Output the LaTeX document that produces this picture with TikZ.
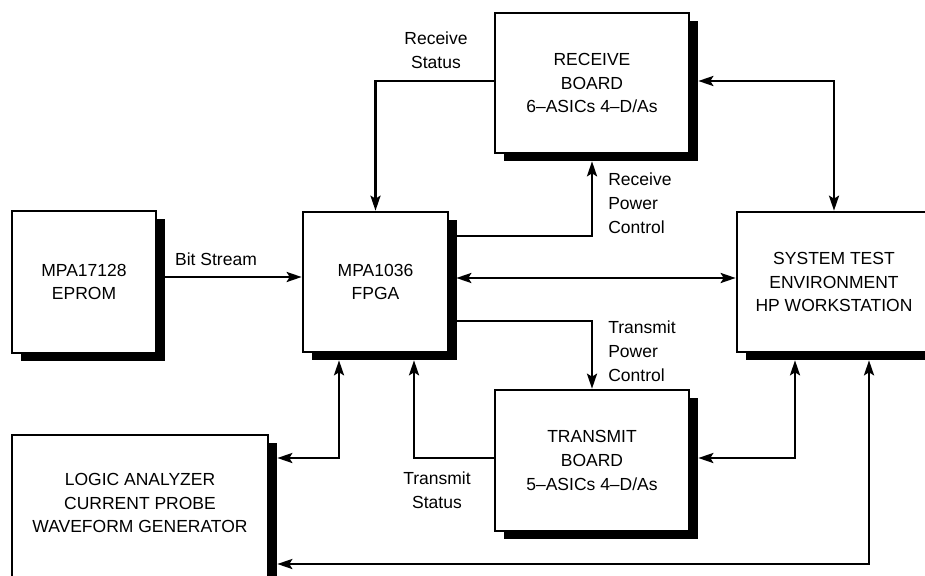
\documentclass[tikz,border=0pt]{standalone}
\usepackage{fontspec}
\setmainfont{Liberation Sans}
\usetikzlibrary{arrows.meta,shadows}
\begin{document}
\begin{tikzpicture}[x=1pt,y=-1pt,
  line width=2.6pt,
  >={Stealth[length=15pt,width=10pt,inset=3pt]},
  txt/.style={font=\fontsize{17.5}{23.8}\selectfont, align=center},
  blk/.style={draw, fill=white, line width=2.6pt, inner sep=0pt,
    drop shadow={shadow xshift=9pt, shadow yshift=-8pt, fill=black, opacity=1},
    txt},
  lbl/.style={txt, inner sep=0pt}
]
\useasboundingbox (0,0) rectangle (925,575);
\clip (0,0) rectangle (925,575);

% blocks
\node[blk, minimum width=144pt, minimum height=142pt] (eprom) at (84,282) {MPA17128\\EPROM};
\node[blk, minimum width=145pt, minimum height=140pt] (fpga) at (375.5,282) {MPA1036\\FPGA};
\node[blk, minimum width=194pt, minimum height=140pt] (rx) at (592,83) {RECEIVE\\BOARD\\6--ASICs 4--D/As};
\node[blk, minimum width=194pt, minimum height=140pt] (sys) at (834,282) {SYSTEM TEST\\ENVIRONMENT\\HP WORKSTATION};
\node[blk, minimum width=194pt, minimum height=141pt] (tx) at (592,460.5) {TRANSMIT\\BOARD\\5--ASICs 4--D/As};
\node[blk, minimum width=256pt, minimum height=155pt] (la) at (140,512.5) {};
\node[lbl] (latext) at (140,503) {LOGIC ANALYZER\\CURRENT PROBE\\WAVEFORM GENERATOR};

% labels
\node[lbl] (lbit) at (216,259) {Bit Stream};
\node[lbl] (lrs) at (436,50) {Receive\\Status};
\node[lbl, anchor=west, align=left] (lrp) at (607,203) {Receive\\Power\\Control};
\node[lbl, anchor=west, align=left] (ltp) at (607,351) {Transmit\\Power\\Control};
\node[lbl] (lts) at (437,490) {Transmit\\Status};

% connectors
\draw[->] (eprom.east |- 0,277) -- (fpga.west |- 0,277);
\draw[<->, shorten <=7pt] (fpga.east |- 0,278) -- (sys.west |- 0,278);
\draw[->, shorten >=7pt] (fpga.east |- 0,236) -| (rx.south);
\draw[->] (fpga.east |- 0,321) -| (tx.north);
\draw[->] (rx.west |- 0,81) -| (fpga.north);
\draw[->, shorten >=7pt] (tx.west |- 0,458) -| (fpga.south -| 414,0);
\draw[<->, shorten <=7pt, shorten >=8pt] (fpga.south -| 339,0) |- (la.east |- 0,458);
\draw[<->, shorten <=8pt] (rx.east |- 0,81) -| (sys.north);
\draw[<->, shorten <=8pt, shorten >=7pt] (tx.east |- 0,458) -| (sys.south -| 795,0);
\draw[<->, shorten <=8pt, shorten >=7pt] (la.east |- 0,564) -| (sys.south -| 869,0);
\end{tikzpicture}
\end{document}
